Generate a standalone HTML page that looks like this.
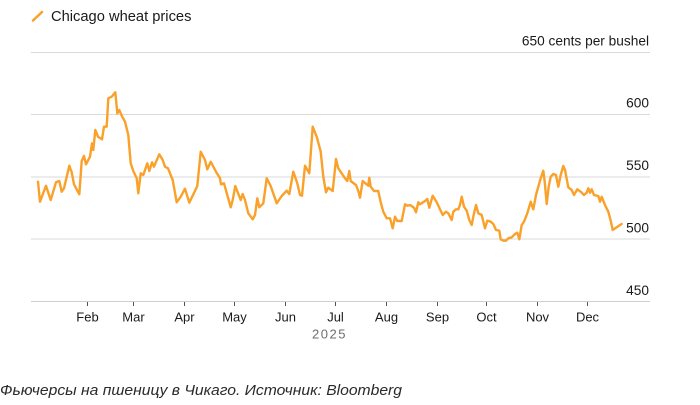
<!DOCTYPE html>
<html><head><meta charset="utf-8"><style>
html,body{margin:0;padding:0;background:#fff;}
svg{display:block;}
</style></head><body>
<svg width="700" height="405" viewBox="0 0 700 405" xmlns="http://www.w3.org/2000/svg">
<rect width="700" height="405" fill="#fff"/>
<!-- legend -->
<line x1="33" y1="20.5" x2="42" y2="12" stroke="#f9a12a" stroke-width="2.5" stroke-linecap="round"/>
<text x="51" y="21" font-family="Liberation Sans, sans-serif" font-size="14.7" fill="#1a1a1a">Chicago wheat prices</text>
<!-- grid -->
<g stroke="#d9d9d9" stroke-width="1">
<line x1="31" y1="52.5" x2="650" y2="52.5"/>
<line x1="31" y1="114.5" x2="650" y2="114.5"/>
<line x1="31" y1="177" x2="650" y2="177"/>
<line x1="31" y1="239" x2="650" y2="239"/>
</g>
<line x1="31" y1="301.5" x2="650" y2="301.5" stroke="#cfcfcf" stroke-width="1"/>
<!-- y labels -->
<g font-family="Liberation Sans, sans-serif" font-size="13.7" fill="#1a1a1a" text-anchor="end">
<text x="649" y="45.7">650 cents per bushel</text>
<text x="649" y="107.5">600</text>
<text x="649" y="170">550</text>
<text x="649" y="232.3">500</text>
<text x="649" y="294.8">450</text>
</g>
<!-- x ticks -->
<g stroke="#555" stroke-width="1">
<line x1="87.5" y1="302" x2="87.5" y2="306"/>
<line x1="133.5" y1="302" x2="133.5" y2="306"/>
<line x1="184.5" y1="302" x2="184.5" y2="306"/>
<line x1="234.5" y1="302" x2="234.5" y2="306"/>
<line x1="285.5" y1="302" x2="285.5" y2="306"/>
<line x1="335.5" y1="302" x2="335.5" y2="306"/>
<line x1="386.5" y1="302" x2="386.5" y2="306"/>
<line x1="437.5" y1="302" x2="437.5" y2="306"/>
<line x1="486.5" y1="302" x2="486.5" y2="306"/>
<line x1="537.5" y1="302" x2="537.5" y2="306"/>
<line x1="587.5" y1="302" x2="587.5" y2="306"/>
</g>
<g font-family="Liberation Sans, sans-serif" font-size="13" fill="#1a1a1a" text-anchor="middle">
<text x="87.5" y="321.7">Feb</text>
<text x="133.5" y="321.7">Mar</text>
<text x="184.5" y="321.7">Apr</text>
<text x="234.5" y="321.7">May</text>
<text x="285.5" y="321.7">Jun</text>
<text x="335.5" y="321.7">Jul</text>
<text x="386.5" y="321.7">Aug</text>
<text x="437.5" y="321.7">Sep</text>
<text x="486.5" y="321.7">Oct</text>
<text x="537.5" y="321.7">Nov</text>
<text x="587.5" y="321.7">Dec</text>
</g>
<text x="329.5" y="338.3" font-family="Liberation Sans, sans-serif" font-size="13" fill="#6e6e6e" text-anchor="middle" letter-spacing="1.5">2025</text>
<!-- series -->
<polyline fill="none" stroke="#f9a12a" stroke-width="2.4" stroke-linejoin="round" stroke-linecap="round" points="
38,181.7 40,201.7 46,185.7 50.7,200 56,182.3 59.3,181 61.7,191.7 64,188.3 69.3,165.7 71.7,172.3 74,184.3 79.3,194.3 81.7,161 84,156 86,164.3 90,156.7 92,143.3 93.3,150 95.3,130 98,136.7 102,139.3 104,126.7 106.7,126.7 108.3,98.3 111.7,96.7 115.3,92.3 117.3,113.3 119.3,110 121.7,115.7 125,121.7 128.3,135 130.7,163.3 133.3,171 136.7,178.3 138.3,193.3 140.7,173.3 143.3,175 147.3,163.3 149.3,171 152,162.3 154,166.7 159.3,154.3 162.7,160 165,166.7 168,168.3 172.7,180 176.7,202.3 180.7,196.7 185,188.7 189.3,202.7
197.3,186 200.7,151.7 205,160 207.3,169.3 210.7,161.7 216,171.7 220,178.3 221,184.3 224,183.3 230.7,207.3 232.7,200 235.3,186 240.7,200 242.7,194 245,200 248.3,213.3 252.7,219.3 255,215 257.3,198.3 259.3,207.3 263.3,203.3 266.7,178.3 270.7,186 276.7,203.3 281.7,196 286.7,190.7 289.3,194
293.3,171.7 297.3,183.3 300,195 302,195.7 305,165.7 309.3,173.3 312.7,126.7 316.7,136.7 320.7,151.7 323.3,176.7 326,192.3 328.3,187.7 332.7,191 336,159 338.3,168.3 345,178.3 347.3,181 349.3,171 350.7,181 356,185 358.3,191 360,197.7 362.7,181 368.3,185.7 369.3,177.7 370.7,186.7 374,191 378.3,191 380.7,202.3 383.3,211.7 386.7,218.3 390,218.3 392.7,228.3 395,216.7 397.3,221 401.7,221 405,204.3 407.3,205.7 410,205 414,207.7 416,212.3 418.3,202.3 420,204.3 425,201 427.3,199 429.3,207.7 432.7,195.7 436.7,202.3
440,209.3 442.7,215 446,211.7 448.3,213.3 451.7,220 453.3,211.7 456,209.3 458.3,209.3 460,205 461.7,196.7 464,206.7 466.7,210.7 469.3,220 471.7,225 474,213.3 476,205 478.3,213.3 481.7,215 485,228.3 487.3,220.7 490.7,221.7 493.3,224 496,230 499.3,230.7 500.7,239.3 503.3,240.7 506,240.7 508.3,238.3 511.7,237.3 515,234 517.3,232.7 519.3,239.3 521.7,225 524,221.7 527.3,213.3 530.7,201.7 533.3,209.3 536,195
538.3,186.7 540.7,178.3 543.3,170.7 544.7,181.7 546.7,204 548.7,186.7 550.7,176.7 553.3,174 556,175 558.3,186.7 560.7,175 563.3,166 565,170 568.3,187.3 571.7,190 574,195 577.3,189.3 580.7,191.7 584,195 586.7,192.7 588.3,188.3 590,192.7 591.7,189.3 594,195 598.3,196 600,201.7 601.7,196.7 605,205 608.3,211.7 610.7,220.7 612.7,230 616.7,227.3 620,225 621.7,224"/>
<!-- caption -->
<text x="0" y="395" font-family="Liberation Sans, sans-serif" font-style="italic" font-size="14.5" fill="#2a2a2a" textLength="402" lengthAdjust="spacingAndGlyphs">Фьючерсы на пшеницу в Чикаго. Источник: Bloomberg</text>
</svg>
</body></html>
